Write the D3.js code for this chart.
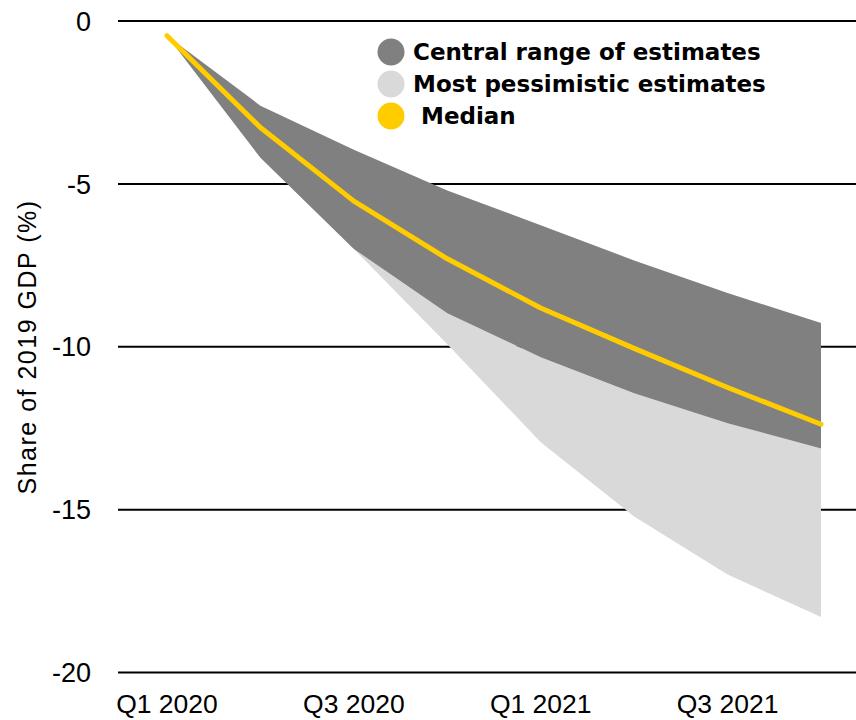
<!DOCTYPE html>
<html>
<head>
<meta charset="utf-8">
<script src="https://cdn.jsdelivr.net/npm/d3@7"></script>
<style>
  html, body { margin: 0; padding: 0; background: #fff; }
  svg { display: block; }
</style>
</head>
<body>
<svg id="chart" width="856" height="720"></svg>
<script>
const quarters = ["Q1 2020", "Q2 2020", "Q3 2020", "Q4 2020", "Q1 2021", "Q2 2021", "Q3 2021", "Q4 2021"];
const tickQuarters = ["Q1 2020", "Q3 2020", "Q1 2021", "Q3 2021"];
const centralUpper = [-0.45, -2.6, -3.95, -5.2, -6.27, -7.35, -8.35, -9.27];
const centralLower = [-0.45, -4.2, -7.0, -8.97, -10.32, -11.43, -12.35, -13.12];
const median = [-0.45, -3.27, -5.53, -7.3, -8.81, -10.05, -11.25, -12.38];
const pessimistic = [null, null, -7.0, -9.92, -12.93, -15.21, -16.99, -18.3];
const yTicks = [0, -5, -10, -15, -20];
const legendLabels = ["Central range of estimates", "Most pessimistic estimates", " Median"];
const yLabel = "Share of 2019 GDP (%)";

const svg = d3.select("#chart");
const x = d3.scalePoint().domain(quarters).range([167, 821]);
const y = d3.scaleLinear().domain([-20, 0]).range([672.5, 21]);

// gridlines
svg.append("g")
  .selectAll("line").data(yTicks).join("line")
  .attr("x1", 118).attr("x2", 856)
  .attr("y1", d => y(d)).attr("y2", d => y(d))
  .attr("stroke", "#000").attr("stroke-width", 2);

// y tick labels
svg.append("g")
  .selectAll("text").data(yTicks).join("text")
  .attr("x", 91).attr("y", d => y(d)).attr("dy", "0.36em")
  .attr("text-anchor", "end")
  .attr("font-family", "Liberation Sans, Arial, sans-serif")
  .attr("font-size", 27).attr("fill", "#000")
  .text(d => d);

// x tick labels
svg.append("g")
  .selectAll("text").data(tickQuarters).join("text")
  .attr("x", d => x(d)).attr("y", 713)
  .attr("text-anchor", "middle")
  .attr("font-family", "Liberation Sans, Arial, sans-serif")
  .attr("font-size", 26.5).attr("fill", "#000")
  .text(d => d);

// y axis title
svg.append("text")
  .attr("transform", "translate(36,347) rotate(-90)")
  .attr("text-anchor", "middle")
  .attr("font-family", "Liberation Sans, Arial, sans-serif")
  .attr("font-size", 25).attr("letter-spacing", 1.5).attr("fill", "#000")
  .text(yLabel);

// pessimistic area
const pessData = quarters.map((q, i) => ({q, lo: pessimistic[i], hi: centralLower[i]})).filter(d => d.lo !== null);
svg.append("path")
  .datum(pessData)
  .attr("fill", "#d9d9d9")
  .attr("d", d3.area().x(d => x(d.q)).y0(d => y(d.lo)).y1(d => y(d.hi)));

// central area
const centralData = quarters.map((q, i) => ({q, lo: centralLower[i], hi: centralUpper[i]}));
svg.append("path")
  .datum(centralData)
  .attr("fill", "#808080")
  .attr("d", d3.area().x(d => x(d.q)).y0(d => y(d.lo)).y1(d => y(d.hi)));

// median line
svg.append("path")
  .datum(quarters.map((q, i) => ({q, v: median[i]})))
  .attr("fill", "none")
  .attr("stroke", "#ffcc00")
  .attr("stroke-width", 5)
  .attr("stroke-linecap", "round")
  .attr("stroke-linejoin", "round")
  .attr("d", d3.line().x(d => x(d.q)).y(d => y(d.v)));

// legend
const legendColors = ["#808080", "#d9d9d9", "#ffcc00"];
const lg = svg.append("g");
legendLabels.forEach((lab, i) => {
  const base = 60 + i * 32;
  lg.append("circle").attr("cx", 391).attr("cy", base - 8).attr("r", 13.5).attr("fill", legendColors[i]);
  lg.append("text")
    .attr("x", 413).attr("y", base)
    .attr("xml:space", "preserve")
    .style("white-space", "pre")
    .attr("font-family", "DejaVu Sans, sans-serif")
    .attr("font-weight", "bold")
    .attr("font-size", 23).attr("fill", "#000")
    .text(lab);
});
</script>
</body>
</html>
